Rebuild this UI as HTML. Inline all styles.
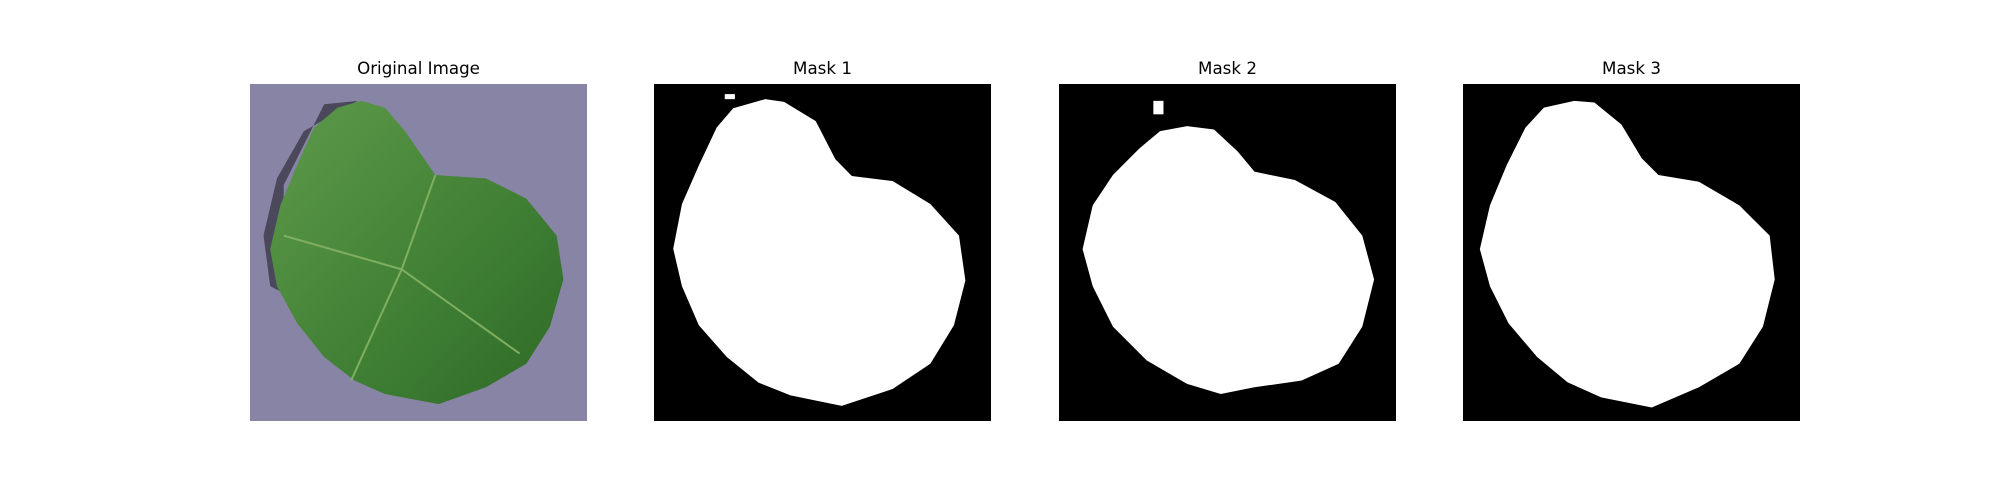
<!DOCTYPE html>
<html><head><meta charset="utf-8">
<style>
body{margin:0;background:#fff;width:2000px;height:500px;overflow:hidden;font-family:"DejaVu Sans","Liberation Sans",sans-serif;}
.t{position:absolute;width:337px;text-align:center;font-size:16.7px;color:#000;top:58px;}
svg{position:absolute;top:84px;width:337px;height:337px;}
</style></head><body>
<div class="t" style="left:250px">Original Image</div>
<div class="t" style="left:654px">Mask 1</div>
<div class="t" style="left:1059px">Mask 2</div>
<div class="t" style="left:1463px">Mask 3</div>

<svg style="left:250px" viewBox="0 0 100 100" preserveAspectRatio="none">
<defs><linearGradient id="g" x1="0" y1="0" x2="1" y2="1"><stop offset="0" stop-color="#5f9a4a"/><stop offset="0.6" stop-color="#3f7f34"/><stop offset="1" stop-color="#2e6a28"/></linearGradient></defs>
<rect width="100" height="100" fill="#8884a6"/>
<path d="M22,6 L32,5 L16,14 L8,28 L4,45 L6,60 L10,62 L10,30 Z" fill="#3d3a4a" opacity="0.8"/>
<path d="M26,7 L33,5 L40,7 L46,14 L55,27 L70,28 L82,34 L91,45 L93,58 L89,72 L82,83 L70,90 L56,95 L40,92 L31,88 L22,81 L14,71 L8,60 L6,49 L9,36 L14,24 L19,13 Z" fill="url(#g)"/>
<path d="M55,27 L45,55 L30,88 M45,55 L80,80 M45,55 L10,45" stroke="#7fae5e" stroke-width="0.6" fill="none"/>
</svg>

<svg style="left:654px" viewBox="0 0 100 100" preserveAspectRatio="none">
<rect width="100" height="100" fill="#000"/>
<path d="M23.5,7.2 L33,4.5 L38.6,5.3 L48,11 L53.8,22.3 L58.7,27.3 L70.8,28.8 L82,35.6 L90.5,45 L92.4,58.3 L89,71.6 L82,83 L70.8,90.5 L55.7,95.5 L40.5,92.4 L31,88.6 L21.6,81 L13.3,71.6 L8.3,60 L5.7,48.9 L8.3,35.6 L13.3,24.2 L18.6,12.9 Z" fill="#fff"/>
<rect x="21" y="3" width="3" height="1.5" fill="#fff"/>
</svg>

<svg style="left:1059px" viewBox="0 0 100 100" preserveAspectRatio="none">
<rect width="100" height="100" fill="#000"/>
<path d="M30,14 L38,12.5 L46,13.5 L53,20 L58,26 L70,28.5 L82,35 L90,45 L93.5,58 L90,72 L83,83 L72,88 L58,90 L48,92 L38,89 L26,82 L16,72 L10,60 L7,49 L10,36 L16,27 L24,19 Z" fill="#fff"/>
<rect x="28" y="5" width="3" height="4" fill="#fff"/>
</svg>

<svg style="left:1463px" viewBox="0 0 100 100" preserveAspectRatio="none">
<rect width="100" height="100" fill="#000"/>
<path d="M24,7 L33,5 L39,5.5 L47,12 L53,22 L58,27 L70,29 L82,36 L91,45 L92.5,58 L89,72 L82,83 L70,90 L56,96 L41,93 L31,88.5 L22,81 L13.5,71 L8,60 L5,49 L8,36 L13,24 L18.5,13 Z" fill="#fff"/>
</svg>
</body></html>
